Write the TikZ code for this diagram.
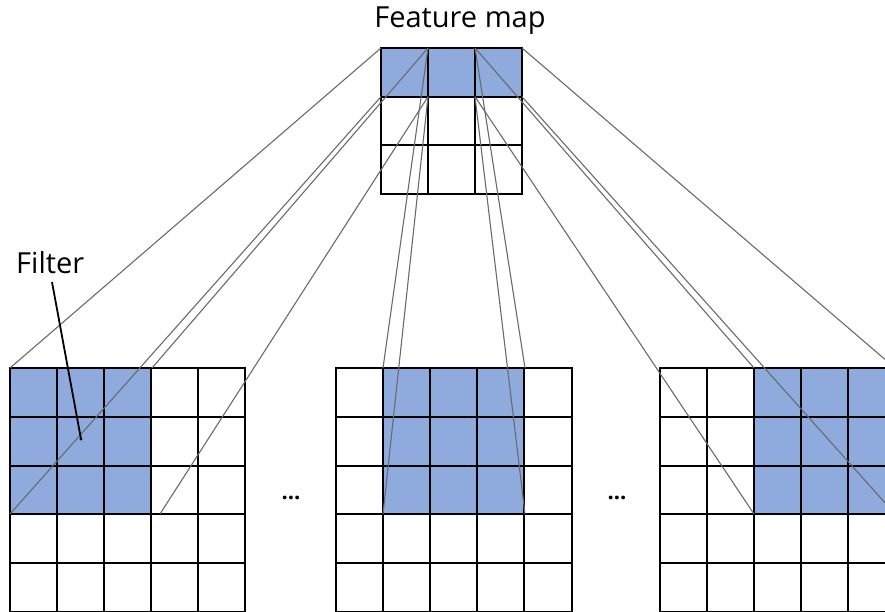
\documentclass[tikz,border=0pt]{standalone}
\usepackage{fontspec}
\setmainfont{Open Sans}
\definecolor{filterblue}{HTML}{8FAADC}
\definecolor{linkgray}{HTML}{6A6A6A}

% draw an n x m grid of cells starting at (#1,#2), cell width #3, height #4
\newcommand{\cellgrid}[6]{%
  \foreach \i in {0,...,#5} {\draw[gridline] ({#1+\i*#3},#2) -- ({#1+\i*#3},{#2+#6*#4});}
  \foreach \j in {0,...,#6} {\draw[gridline] (#1,{#2+\j*#4}) -- ({#1+#5*#3},{#2+\j*#4});}
}

\begin{document}
\begin{tikzpicture}[x=1pt,y=-1pt,
  gridline/.style={line width=2pt,black,line cap=rect},
  cellfill/.style={fill=filterblue},
  link/.style={line width=1.1pt,linkgray},
  pointer/.style={line width=1.8pt,black},
  label/.style={font=\fontsize{29}{33}\selectfont,inner sep=0pt},
  dotslabel/.style={font=\fontsize{22}{24}\selectfont\bfseries,inner sep=0pt}]

\useasboundingbox (0,0) rectangle (885,612);
\clip (0,0) rectangle (885,612);

% ---- blue fills: feature map top row and the three filter positions
\fill[cellfill] (381,48) rectangle (522,96.7);
\fill[cellfill] (10,368) rectangle (152,514);
\fill[cellfill] (383,368) rectangle (525,514);
\fill[cellfill] (754,368) rectangle (895,514);

% ---- corner coordinates of the feature map's top row
\coordinate (f00) at (381,48);
\coordinate (f10) at (428,48);
\coordinate (f20) at (475,48);
\coordinate (f30) at (522,48);
\coordinate (f01) at (381,96.7);
\coordinate (f11) at (428,96.7);
\coordinate (f21) at (475,96.7);
\coordinate (f31) at (522,96.7);

% ---- corner coordinates of the three filter windows
\coordinate (ltl) at (10,368);   \coordinate (ltr) at (152,368);
\coordinate (lbl) at (10,514);   \coordinate (lbr) at (160,514);
\coordinate (mtl) at (383,368);  \coordinate (mtr) at (525,368);
\coordinate (mbl) at (383,514);  \coordinate (mbr) at (525,514);
\coordinate (rtl) at (754,368);  \coordinate (rtr) at (895,368);
\coordinate (rbl) at (754,514);  \coordinate (rbr) at (895,514);

% ---- grids
\cellgrid{381}{48}{47}{48.67}{3}{3}
\cellgrid{10}{368}{47}{48.8}{5}{5}
\cellgrid{336}{368}{47.1}{48.8}{5}{5}
\cellgrid{660}{368}{47}{48.8}{5}{5}

% ---- projection lines from each filter window to its output cell
\draw[link] (ltl) -- (f00);
\draw[link] (ltr) -- (f10);
\draw[link] (lbl) -- (f01);
\draw[link] (lbr) -- (f11);
\draw[link] (mtl) -- (f10);
\draw[link] (mbl) -- (f11);
\draw[link] (mtr) -- (f20);
\draw[link] (mbr) -- (f21);
\draw[link] (rtl) -- (f20);
\draw[link] (rbl) -- (f21);
\draw[link] (rtr) -- (f30);
\draw[link] (rbr) -- (f31);

% ---- labels
\node[label,anchor=base] (fmap) at (460,28) {Feature map};
\node[label,anchor=base west] (filt) at (16,273) {Filter};
\coordinate (ptrstart) at (52,282);
\coordinate (ptrend) at (81,439);
\draw[pointer] (ptrstart) -- (ptrend);
\fill[black] (ptrend) circle (1.6);

\node[dotslabel,anchor=base] (dotsa) at (291,499) {...};
\node[dotslabel,anchor=base] (dotsb) at (617,499) {...};

\end{tikzpicture}
\end{document}
